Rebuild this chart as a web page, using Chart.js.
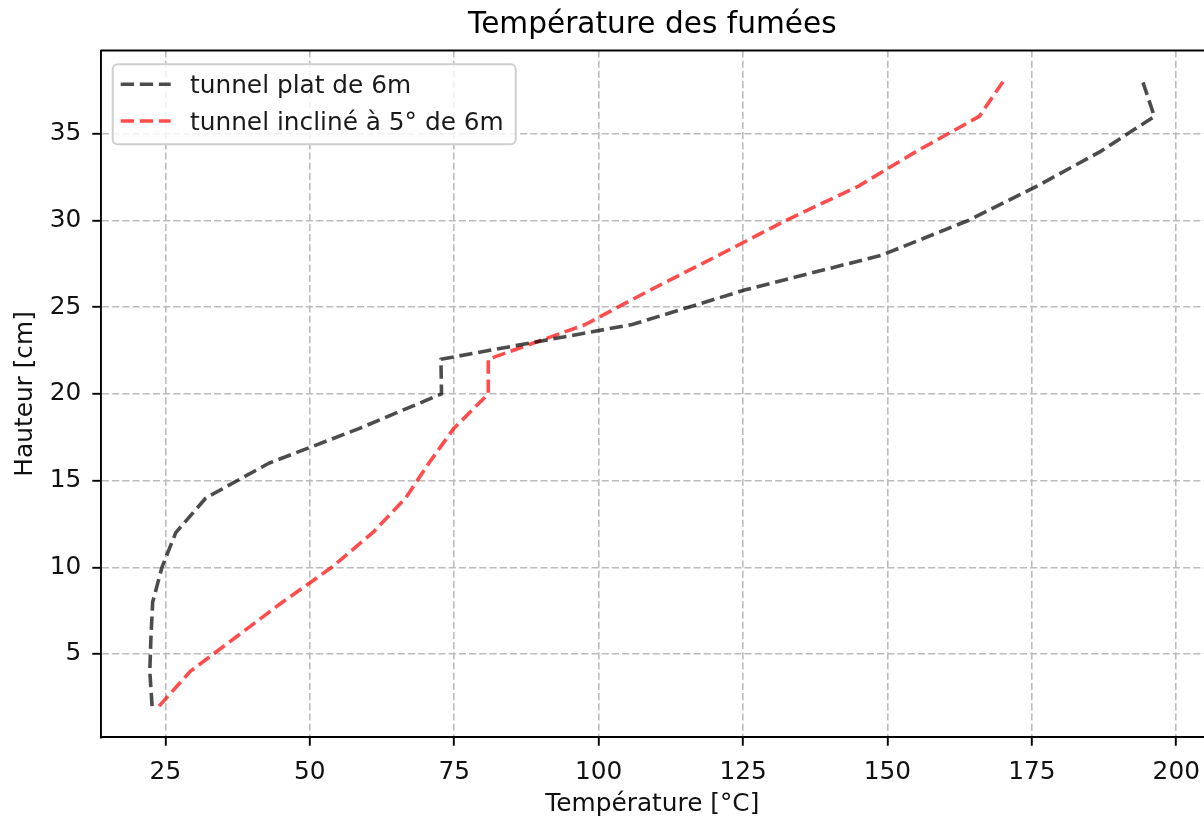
<!DOCTYPE html>
<html>
<head>
<meta charset="utf-8">
<title>Température des fumées</title>
<script src="https://cdn.jsdelivr.net/npm/chart.js@4/dist/chart.umd.min.js"></script>
<style>
  html, body { margin: 0; padding: 0; background: #ffffff; }
  #wrap { width: 1204px; height: 817px; }
</style>
</head>
<body>
<div id="wrap"><canvas id="chart" width="1204" height="817"></canvas></div>
<script>
// Hauteurs de mesure [cm]
const hauteurs = [2, 4, 6, 8, 10, 12, 14, 16, 18, 20, 22, 24, 26, 28, 30, 32, 34, 36, 38];
// Températures mesurées [°C] — tunnel plat de 6 m
const tempPlat = [22.7, 22.3, 22.5, 22.8, 24.4, 26.8, 32.0, 42.9, 58.5, 72.8, 72.7, 105.8, 125.4, 149.0, 164.0, 176.0, 187.0, 196.2, 194.2];
// Températures mesurées [°C] — tunnel incliné à 5° de 6 m
const tempIncline = [23.9, 29.3, 37.3, 45.3, 53.8, 60.9, 66.6, 70.6, 74.9, 80.9, 80.9, 97.7, 109.0, 120.8, 132.4, 145.1, 155.1, 165.9, 170.0];

const seriesLabels = ['tunnel plat de 6m', 'tunnel incliné à 5° de 6m'];
const chartTitle = 'Température des fumées';
const xTicks = [25, 50, 75, 100, 125, 150, 175, 200];
const yTicks = [5, 10, 15, 20, 25, 30, 35];

const FONT = "'DejaVu Sans', 'Liberation Sans', sans-serif";
const FS = 24.8;      // texte courant (graduations, axes, légende)
const FS_TITLE = 29.6;
const DASH = [13.3, 5.8];
const GRID_DASH = [7.1, 3.1];

const toPoints = (xs, ys) => xs.map((x, i) => ({ x: x, y: ys[i] }));

// Titre centré sur la zone de tracé, cadre supérieur et légende intérieure
const framePlugin = {
  id: 'frameAndLegend',
  afterDraw(chart) {
    const { ctx, chartArea: ca } = chart;
    ctx.save();

    // titre
    ctx.font = FS_TITLE + 'px ' + FONT;
    ctx.fillStyle = '#000';
    ctx.textAlign = 'center';
    ctx.textBaseline = 'middle';
    ctx.fillText(chartTitle, (ca.left + ca.right) / 2, 25);

    // axe du haut
    ctx.strokeStyle = '#000';
    ctx.lineWidth = 1.9;
    ctx.beginPath();
    ctx.moveTo(ca.left, ca.top);
    ctx.lineTo(ca.right, ca.top);
    ctx.stroke();

    // légende
    ctx.font = FS + 'px ' + FONT;
    const widths = chart.data.datasets.map(d => ctx.measureText(d.label).width);
    const x0 = ca.left + 12;
    const y0 = ca.top + 13.8;
    const textX = x0 + 77.3;
    const w = textX - x0 + Math.max(...widths) + 12;
    const h = 80;
    ctx.beginPath();
    ctx.roundRect(x0, y0, w, h, 5);
    ctx.fillStyle = 'rgba(255,255,255,0.8)';
    ctx.fill();
    ctx.strokeStyle = '#cfcfcf';
    ctx.lineWidth = 2;
    ctx.stroke();

    chart.data.datasets.forEach((d, i) => {
      const ly = y0 + 20 + i * 36.7;
      ctx.save();
      ctx.strokeStyle = d.borderColor;
      ctx.lineWidth = d.borderWidth;
      ctx.setLineDash(d.borderDash);
      ctx.lineCap = 'butt';
      ctx.beginPath();
      ctx.moveTo(x0 + 8, ly);
      ctx.lineTo(x0 + 58, ly);
      ctx.stroke();
      ctx.restore();
      ctx.fillStyle = '#1a1a1a';
      ctx.textBaseline = 'alphabetic';
      ctx.textAlign = 'left';
      ctx.fillText(d.label, textX, ly + 9);
    });
    ctx.restore();
  }
};

new Chart(document.getElementById('chart'), {
  type: 'scatter',
  data: {
    datasets: [
      {
        label: seriesLabels[0],
        data: toPoints(tempPlat, hauteurs),
        showLine: true,
        borderColor: 'rgba(0,0,0,0.7)',
        backgroundColor: 'rgba(0,0,0,0.7)',
        borderWidth: 3.6,
        borderDash: DASH,
        borderCapStyle: 'butt',
        borderJoinStyle: 'round',
        pointRadius: 0,
        pointHoverRadius: 0,
        tension: 0
      },
      {
        label: seriesLabels[1],
        data: toPoints(tempIncline, hauteurs),
        showLine: true,
        borderColor: 'rgba(255,0,0,0.7)',
        backgroundColor: 'rgba(255,0,0,0.7)',
        borderWidth: 3.6,
        borderDash: DASH,
        borderCapStyle: 'butt',
        borderJoinStyle: 'round',
        pointRadius: 0,
        pointHoverRadius: 0,
        tension: 0
      }
    ]
  },
  options: {
    responsive: false,
    devicePixelRatio: 1,
    animation: false,
    events: [],
    layout: { padding: { top: 50.5, left: 0, right: 0, bottom: 0 } },
    plugins: {
      legend: { display: false },
      tooltip: { enabled: false },
      title: { display: false }
    },
    scales: {
      x: {
        type: 'linear',
        min: 13.8,
        max: 204.8,
        afterBuildTicks: s => { s.ticks = xTicks.map(v => ({ value: v })); },
        afterFit: s => { s.height = 79.7; s.paddingLeft = 0; s.paddingRight = 0; },
        ticks: {
          color: '#111',
          font: { family: FONT, size: FS },
          padding: 12,
          maxRotation: 0,
          autoSkip: false
        },
        grid: {
          color: '#bcbcbc',
          lineWidth: 1.6,
          borderDash: GRID_DASH,
          tickLength: 8.4,
          tickColor: '#000',
          tickWidth: 1.9,
          tickBorderDash: []
        },
        border: { display: true, color: '#000', width: 1.9, dash: GRID_DASH },
        title: {
          display: true,
          text: 'Température [°C]',
          color: '#111',
          font: { family: FONT, size: FS },
          padding: { top: 0, bottom: -2.5 }
        }
      },
      y: {
        type: 'linear',
        min: 0.2,
        max: 39.8,
        afterBuildTicks: s => { s.ticks = yTicks.map(v => ({ value: v })); },
        afterFit: s => { s.width = 100.7; s.paddingTop = 0; s.paddingBottom = 0; },
        ticks: {
          color: '#111',
          font: { family: FONT, size: FS },
          padding: 11,
          autoSkip: false
        },
        grid: {
          color: '#bcbcbc',
          lineWidth: 1.6,
          borderDash: GRID_DASH,
          tickLength: 8.4,
          tickColor: '#000',
          tickWidth: 1.9,
          tickBorderDash: []
        },
        border: { display: true, color: '#000', width: 1.9, dash: GRID_DASH },
        title: {
          display: true,
          text: 'Hauteur [cm]',
          color: '#111',
          font: { family: FONT, size: FS },
          padding: { top: 10.4, bottom: 0 }
        }
      }
    }
  },
  plugins: [framePlugin]
});
</script>
</body>
</html>
